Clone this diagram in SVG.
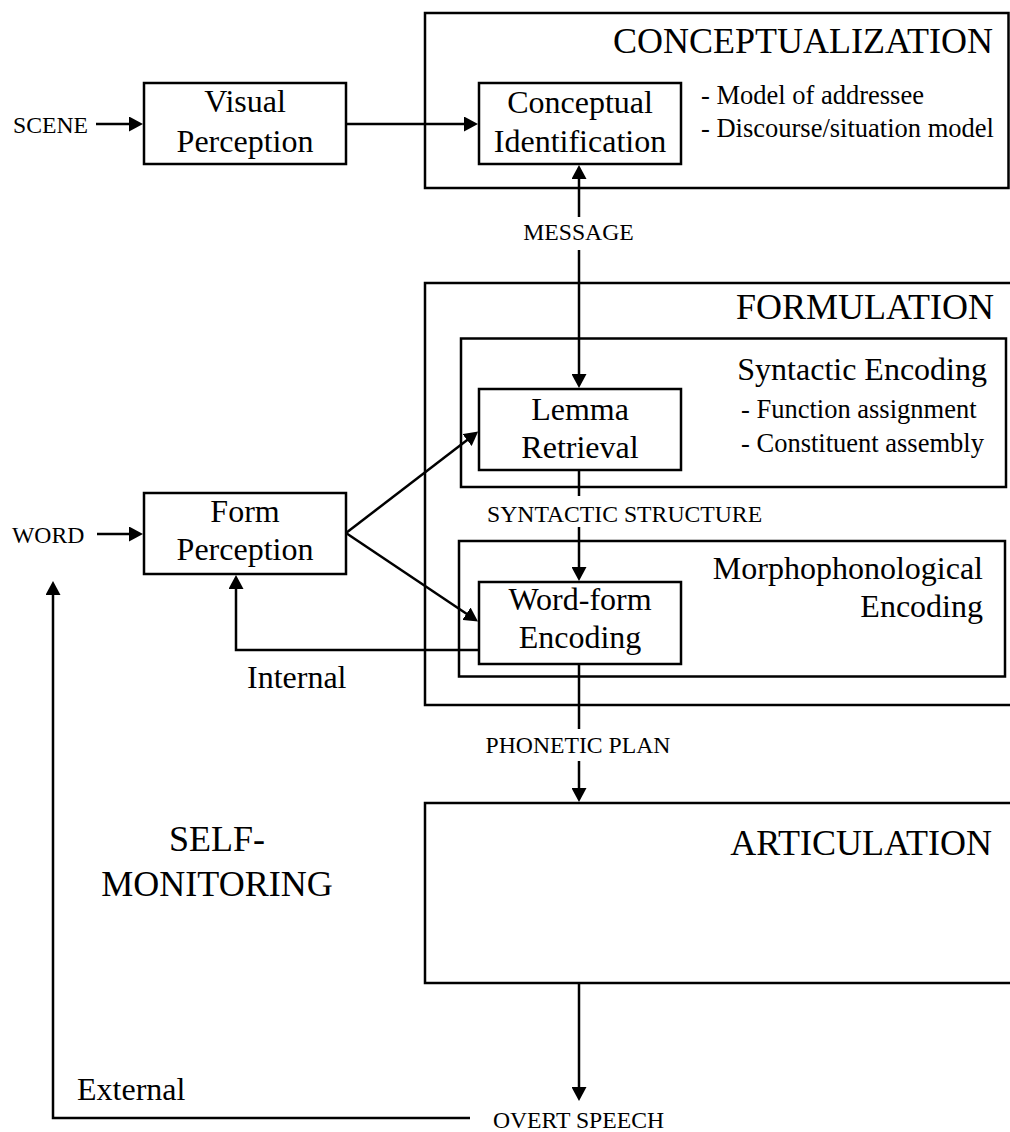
<svg xmlns="http://www.w3.org/2000/svg" width="1010" height="1132" viewBox="0 0 1010 1132">
<style>
  .box { fill: none; stroke: #000; stroke-width: 2.5; }
  .wbox { fill: #fff; stroke: #000; stroke-width: 2.5; }
  .ln { fill: none; stroke: #000; stroke-width: 2.5; }
  text { font-family: "Liberation Serif", "Times New Roman", serif; fill: #000; }
  .title { font-size: 36px; }
  .node { font-size: 32px; text-anchor: middle; }
  .sub { font-size: 32px; }
  .item { font-size: 26.5px; }
  .lab { font-size: 23.7px; }
</style>
<defs>
  <marker id="arr" markerUnits="userSpaceOnUse" viewBox="0 0 14 15" markerWidth="14" markerHeight="15" refX="10" refY="7.5" orient="auto">
    <path d="M0,0 L14,7.5 L0,15 z" fill="#000"/>
  </marker>
</defs>
<rect width="1010" height="1132" fill="#fff"/>

<g id="conceptualization">
  <rect class="box" x="425" y="13" width="583.5" height="175"/>
  <text class="title" x="993" y="53" text-anchor="end">CONCEPTUALIZATION</text>
  <text class="item" x="701" y="104">- Model of addressee</text>
  <text class="item" x="701" y="137">- Discourse/situation model</text>
</g>

<g id="formulation">
  <rect class="box" x="425" y="283" width="590" height="422"/>
  <text class="title" x="994" y="319" text-anchor="end">FORMULATION</text>
</g>

<g id="syntactic-encoding">
  <rect class="box" x="461" y="338.5" width="545" height="148.5"/>
  <text class="sub" x="987" y="380" text-anchor="end">Syntactic Encoding</text>
  <text class="item" x="741" y="418">- Function assignment</text>
  <text class="item" x="741" y="452">- Constituent assembly</text>
</g>

<g id="morphophonological-encoding">
  <rect class="box" x="459" y="541" width="546" height="135.5"/>
  <text class="sub" x="983" y="579" text-anchor="end">Morphophonological</text>
  <text class="sub" x="983" y="617" text-anchor="end">Encoding</text>
</g>

<g id="articulation">
  <rect class="box" x="425" y="803" width="590" height="180"/>
  <text class="title" x="992" y="855" text-anchor="end">ARTICULATION</text>
</g>

<g id="self-monitoring">
  <text class="title" x="217" y="851" text-anchor="middle">SELF-</text>
  <text class="title" x="217" y="896" text-anchor="middle">MONITORING</text>
</g>

<g id="connectors">
  <line class="ln" x1="96" y1="124" x2="139" y2="124" marker-end="url(#arr)"/>
  <line class="ln" x1="346" y1="124" x2="474" y2="124" marker-end="url(#arr)"/>
  <line class="ln" x1="579" y1="217" x2="579" y2="169" marker-end="url(#arr)"/>
  <line class="ln" x1="579" y1="250" x2="579" y2="384" marker-end="url(#arr)"/>
  <line class="ln" x1="579" y1="470" x2="579" y2="496"/>
  <line class="ln" x1="579" y1="527" x2="579" y2="577" marker-end="url(#arr)"/>
  <line class="ln" x1="579" y1="664" x2="579" y2="729"/>
  <line class="ln" x1="579" y1="761" x2="579" y2="798" marker-end="url(#arr)"/>
  <line class="ln" x1="579" y1="983" x2="579" y2="1097" marker-end="url(#arr)"/>
  <line class="ln" x1="97" y1="534" x2="139" y2="534" marker-end="url(#arr)"/>
  <line class="ln" x1="346" y1="533" x2="475" y2="434" marker-end="url(#arr)"/>
  <line class="ln" x1="346" y1="533" x2="474.7" y2="619.3" marker-end="url(#arr)"/>
  <polyline class="ln" points="479,650 236,650 236,579" marker-end="url(#arr)"/>
  <polyline class="ln" points="470,1118 53,1118 53,585" marker-end="url(#arr)"/>
  <text class="lab" x="578.5" y="240" text-anchor="middle">MESSAGE</text>
  <text class="lab" x="487" y="522">SYNTACTIC STRUCTURE</text>
  <text class="lab" x="578" y="753" text-anchor="middle">PHONETIC PLAN</text>
  <text class="lab" x="578.5" y="1128" text-anchor="middle">OVERT SPEECH</text>
  <text class="sub" x="247" y="688">Internal</text>
  <text class="sub" x="77" y="1100">External</text>
</g>

<g id="scene">
  <text class="lab" x="13" y="133">SCENE</text>
</g>
<g id="word">
  <text class="lab" x="12" y="543">WORD</text>
</g>

<g id="visual-perception">
  <rect class="wbox" x="144" y="83" width="202" height="81"/>
  <text class="node" x="245" y="112">Visual</text>
  <text class="node" x="245" y="152">Perception</text>
</g>

<g id="conceptual-identification">
  <rect class="wbox" x="479" y="83" width="202" height="81"/>
  <text class="node" x="580" y="113">Conceptual</text>
  <text class="node" x="580" y="152">Identification</text>
</g>

<g id="form-perception">
  <rect class="wbox" x="144" y="493" width="202" height="81"/>
  <text class="node" x="245" y="522">Form</text>
  <text class="node" x="245" y="560">Perception</text>
</g>

<g id="lemma-retrieval">
  <rect class="wbox" x="479" y="389" width="202" height="81"/>
  <text class="node" x="580" y="420">Lemma</text>
  <text class="node" x="580" y="458">Retrieval</text>
</g>

<g id="word-form-encoding">
  <rect class="wbox" x="479" y="582" width="202" height="82"/>
  <text class="node" x="580" y="610">Word-form</text>
  <text class="node" x="580" y="648">Encoding</text>
</g>
</svg>
